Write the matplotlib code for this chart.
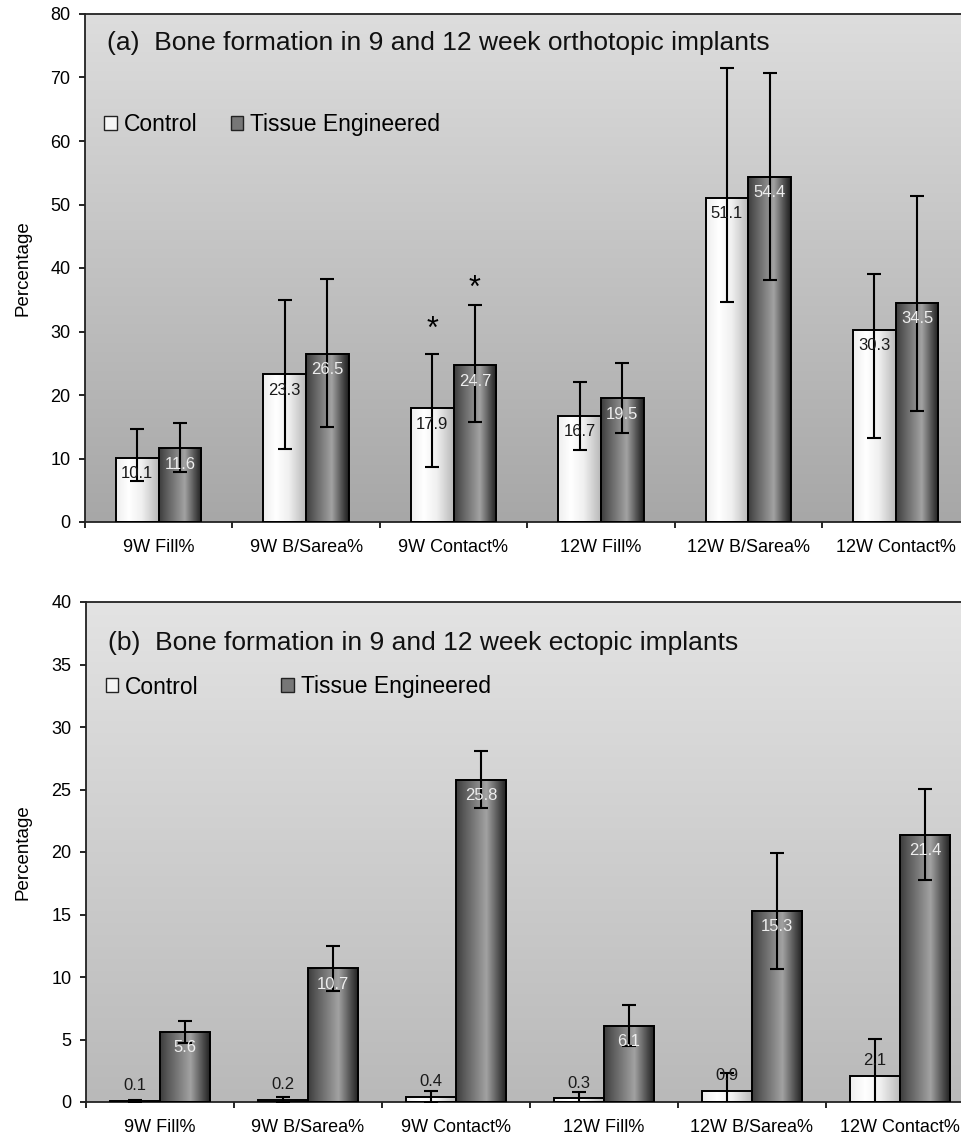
import numpy as np
import matplotlib
matplotlib.use('Agg')
from matplotlib import pyplot as plt
from matplotlib.colors import LinearSegmentedColormap
from matplotlib.patches import Patch

plt.rcParams['font.family'] = ['Liberation Sans', 'DejaVu Sans']

# categories shared by both panels
cats = ['9W Fill%', '9W B/Sarea%', '9W Contact%', '12W Fill%', '12W B/Sarea%', '12W Contact%']

# (a) orthotopic implants
ortho_ctrl = [10.1, 23.3, 17.9, 16.7, 51.1, 30.3]
ortho_te = [11.6, 26.5, 24.7, 19.5, 54.4, 34.5]
ortho_ctrl_lo = [3.6, 11.8, 9.3, 5.4, 16.4, 17.0]
ortho_ctrl_hi = [4.5, 11.7, 8.6, 5.3, 20.4, 8.8]
ortho_te_lo = [3.7, 11.5, 9.0, 5.5, 16.3, 17.0]
ortho_te_hi = [4.0, 11.8, 9.4, 5.6, 16.3, 16.8]
star_cat = 2  # significant difference marked with *

# (b) ectopic implants
ecto_ctrl = [0.1, 0.2, 0.4, 0.3, 0.9, 2.1]
ecto_te = [5.6, 10.7, 25.8, 6.1, 15.3, 21.4]
ecto_ctrl_err = [0.1, 0.2, 0.5, 0.5, 1.45, 2.95]
ecto_te_err = [0.85, 1.8, 2.3, 1.65, 4.65, 3.65]

# shading for the bars (cylinder look)
ctrl_cmap = LinearSegmentedColormap.from_list('ctrl', [(0, '#eeeeee'), (0.3, '#ffffff'), (0.6, '#f0f0f0'), (1, '#b8b8b8')])
te_cmap = LinearSegmentedColormap.from_list('te', [(0, '#3c3c3c'), (0.15, '#585858'), (0.6, '#a2a2a2'), (0.85, '#4c4c4c'), (1, '#1c1c1c')])
grad = np.linspace(0, 1, 256).reshape(1, -1)


def shade(ax, bars, cmap):
    for r in bars:
        x0, w, h = r.get_x(), r.get_width(), r.get_height()
        ax.imshow(grad, cmap=cmap, extent=[x0, x0 + w, 0, h], aspect='auto',
                  interpolation='bilinear', zorder=2.5)


def panel(ax, ctrl, te, ctrl_err, te_err, width, ymax, ystep, bg, title, leg_y, title_y, colsp, ctrl_above):
    xc = np.arange(len(cats)) + 0.5
    # background gradient
    bgmap = LinearSegmentedColormap.from_list('bg', bg)
    ax.imshow(np.linspace(0, 1, 256).reshape(-1, 1), cmap=bgmap, extent=[0, 1, 0, 1],
              transform=ax.transAxes, origin='lower', aspect='auto', zorder=0)

    b1 = ax.bar(xc - width / 2, ctrl, width, facecolor='none', edgecolor='black', linewidth=1.4, zorder=3)
    b2 = ax.bar(xc + width / 2, te, width, facecolor='none', edgecolor='black', linewidth=1.4, zorder=3)
    shade(ax, b1, ctrl_cmap)
    shade(ax, b2, te_cmap)

    ax.errorbar(xc - width / 2, ctrl, yerr=ctrl_err, fmt='none', ecolor='black',
                elinewidth=1.5, capsize=5, capthick=1.5, zorder=4)
    ax.errorbar(xc + width / 2, te, yerr=te_err, fmt='none', ecolor='black',
                elinewidth=1.5, capsize=5, capthick=1.5, zorder=4)

    # value labels
    for i in range(len(cats)):
        dy = 15 if ctrl_above else -16
        ax.annotate(f'{ctrl[i]}', (xc[i] - width / 2, ctrl[i]), xytext=(0, dy), textcoords='offset pixels',
                    ha='center', va='center', fontsize=12, color='#1a1a1a', zorder=5)
        ax.annotate(f'{te[i]}', (xc[i] + width / 2, te[i]), xytext=(0, -16), textcoords='offset pixels',
                    ha='center', va='center', fontsize=12, color='#eeeeee', zorder=5)

    ax.set_xlim(0, len(cats))
    ax.set_ylim(0, ymax)
    ax.set_yticks(np.arange(0, ymax + 1, ystep))
    ax.set_xticks(range(len(cats) + 1))
    ax.set_xticklabels([])
    ax.set_xticks(xc, minor=True)
    ax.set_xticklabels(cats, minor=True)
    ax.tick_params(axis='x', which='minor', length=0, pad=12, labelsize=13)
    ax.tick_params(axis='x', which='major', direction='out', length=4.5, width=1.2)
    ax.tick_params(axis='y', direction='out', length=4.5, width=1.2, pad=6, labelsize=13)
    for s in ax.spines.values():
        s.set_linewidth(1.3)
        s.set_color('#222222')

    ax.set_ylabel('Percentage', fontsize=13.5)
    ax.yaxis.set_label_coords(-0.061, 0.5)
    ax.text(0.025, title_y, title, transform=ax.transAxes, fontsize=19, va='center', ha='left', color='#111111')

    handles = [Patch(facecolor='#f6f6f6', edgecolor='#222222', linewidth=1.0),
               Patch(facecolor='#777777', edgecolor='#222222', linewidth=1.0)]
    ax.legend(handles, ['Control', 'Tissue Engineered'], loc='center left', bbox_to_anchor=(0.022, leg_y),
              ncol=2, frameon=False, fontsize=16.5, handlelength=0.55, handleheight=0.55,
              handletextpad=0.3, columnspacing=colsp, borderpad=0, borderaxespad=0)
    return xc


fig = plt.figure(figsize=(9.61, 11.36), dpi=100)
ax1 = fig.add_axes([85 / 961, 1 - 522 / 1136, 884.4 / 961, 508 / 1136])
ax2 = fig.add_axes([86 / 961, 1 - 1102 / 1136, 888 / 961, 500 / 1136])

xc = panel(ax1, ortho_ctrl, ortho_te, [ortho_ctrl_lo, ortho_ctrl_hi], [ortho_te_lo, ortho_te_hi],
           0.29, 80, 10, ['#a7a7a7', '#dddddd'],
           '(a)  Bone formation in 9 and 12 week orthotopic implants', 0.7815, 0.943, 1.45, False)

# asterisks over the 9W Contact% bars
ax1.annotate('*', (xc[star_cat] - 0.145, ortho_ctrl[star_cat] + ortho_ctrl_hi[star_cat]), xytext=(0, 24),
             textcoords='offset pixels', ha='center', va='center', fontsize=22, zorder=5)
ax1.annotate('*', (xc[star_cat] + 0.145, ortho_te[star_cat] + ortho_te_hi[star_cat]), xytext=(0, 17),
             textcoords='offset pixels', ha='center', va='center', fontsize=22, zorder=5)

panel(ax2, ecto_ctrl, ecto_te, ecto_ctrl_err, ecto_te_err,
      0.338, 40, 5, ['#b9b9b9', '#e3e3e3'],
      '(b)  Bone formation in 9 and 12 week ectopic implants', 0.83, 0.918, 3.6, True)

plt.savefig('out.png', dpi=100)
